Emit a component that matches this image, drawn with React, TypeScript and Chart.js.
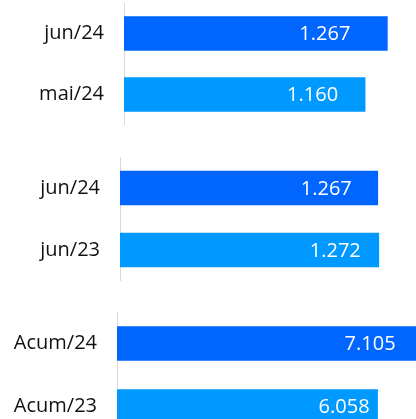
import React, { useEffect, useRef } from "react";
import { Chart, registerables } from "chart.js";

Chart.register(...registerables);

// ---- Data ----
const panel1Labels = ["jun/24", "mai/24"];
const panel1Values = [1267, 1160];

const panel2Labels = ["jun/24", "jun/23"];
const panel2Values = [1267, 1272];

const panel3Labels = ["Acum/24", "Acum/23"];
const panel3Values = [7105, 6058];

const barColors = ["#0066FF", "#0099FF"];

// ---- Layout (styles only) ----
type PanelLayout = {
  top: number;
  height: number;
  width: number;
  axisWidth: number;
  xMax: number;
  labelPads: number[];
};

const panelLayouts: PanelLayout[] = [
  { top: 3, height: 122, width: 415, axisWidth: 124, xMax: 1400, labelPads: [37, 27] },
  { top: 157, height: 124, width: 415, axisWidth: 120, xMax: 1450, labelPads: [26, 18] },
  { top: 312, height: 126, width: 431, axisWidth: 117, xMax: 7300, labelPads: [27, 8] },
];

const FONT = "'Open Sans', 'Noto Sans', sans-serif";

function formatPt(v: number): string {
  const s = Math.round(v).toString();
  return s.replace(/\B(?=(\d{3})+(?!\d))/g, ".");
}

function Panel({ labels, values, layout }: { labels: string[]; values: number[]; layout: PanelLayout }) {
  const ref = useRef<HTMLCanvasElement | null>(null);
  useEffect(() => {
    if (!ref.current) return;
    const labelPlugin = {
      id: "valueLabels",
      afterDatasetsDraw(chart: any) {
        const ctx = chart.ctx;
        const meta = chart.getDatasetMeta(0);
        ctx.save();
        ctx.font = `20px ${FONT}`;
        ctx.fillStyle = "#FFFFFF";
        ctx.textAlign = "right";
        ctx.textBaseline = "middle";
        meta.data.forEach((bar: any, i: number) => {
          const v = chart.data.datasets[0].data[i] as number;
          ctx.fillText(formatPt(v), bar.x - layout.labelPads[i], bar.y + 1);
        });
        ctx.restore();
      },
    };
    const chart = new Chart(ref.current, {
      type: "bar",
      data: {
        labels,
        datasets: [
          {
            data: values,
            backgroundColor: barColors,
            borderWidth: 0,
            barThickness: 34,
          },
        ],
      },
      options: {
        indexAxis: "y",
        animation: false,
        responsive: false,
        maintainAspectRatio: false,
        layout: { padding: 0, autoPadding: false },
        plugins: {
          legend: { display: false },
          tooltip: { enabled: false },
          title: { display: false },
        },
        scales: {
          x: {
            display: false,
            min: 0,
            max: layout.xMax,
          },
          y: {
            z: 1,
            afterFit: (scale: any) => {
              scale.width = layout.axisWidth;
              scale.paddingTop = 0;
              scale.paddingBottom = 0;
            },
            grid: { display: false, drawTicks: false },
            border: { display: true, color: "#D9D9D9", width: 1 },
            ticks: {
              padding: 20,
              color: "#111111",
              font: { family: FONT, size: 20 },
            },
          },
        },
      },
      plugins: [labelPlugin],
    } as any);
    return () => chart.destroy();
  }, []);
  return (
    <canvas
      ref={ref}
      width={layout.width}
      height={layout.height}
      style={{
        position: "absolute",
        left: 0,
        top: layout.top,
        width: layout.width,
        height: layout.height,
      }}
    />
  );
}

export default function App() {
  return (
    <div
      style={{
        position: "fixed",
        left: 0,
        top: 0,
        width: 416,
        height: 419,
        overflow: "hidden",
        background: "#FFFFFF",
      }}
    >
      <Panel labels={panel1Labels} values={panel1Values} layout={panelLayouts[0]} />
      <Panel labels={panel2Labels} values={panel2Values} layout={panelLayouts[1]} />
      <Panel labels={panel3Labels} values={panel3Values} layout={panelLayouts[2]} />
    </div>
  );
}
